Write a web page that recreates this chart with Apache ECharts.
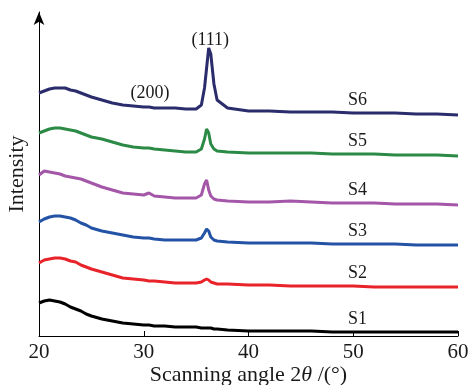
<!DOCTYPE html>
<html><head><meta charset="utf-8">
<script src="https://cdn.jsdelivr.net/npm/echarts@6/dist/echarts.min.js"></script>
<style>html,body{margin:0;padding:0;background:#fff}#c{width:471px;height:385px}</style>
</head><body><div id="c"></div>
<script>
var angles = [20,20.5,21,21.5,22,22.5,23,23.5,24,24.5,25,26,27,28,29,30,30.5,31,32,33,34,35,35.5,35.8,36.0,36.2,36.4,36.7,37,38,40,42,44,46,48,50,52,54,56,58,60];
var seriesNames = ['S1','S2','S3','S4','S5','S6'];
var S1 = [33,35,36,35,34,32,29,27,25,22,20, 17,15,13,12,11,11,10,10,9,9,9, 8,8,8,8,8,7,7,6, 5,5,5,5,4,4,4,4,4,4,4];
var S2 = [73,76,77,78,78,77,75,74,71,69,67, 64,61,58,57,56,55,55,54,53,53,53, 54,56,57,56,54,53,52,52, 51,51,50,50,50,50,49,49,49,49,49];
var S3 = [114,117,119,120,120,119,118,116,113,111,108, 105,103,101,99,98,98,97,96,96,96,96, 98,103,107,105,99,96,95,94, 93,93,93,93,92,92,92,92,91,91,91];
var S4 = [161,165,164,163,162,160,159,158,157,155,153, 149,146,143,142,141,143,140,139,138,138,138, 141,152,156,146,140,137,136,135, 134,134,135,134,133,133,133,132,132,132,131];
var S5 = [203,205,207,208,208,207,206,205,203,201,199, 197,194,191,189,188,188,187,186,185,184,184, 187,197,207,203,192,187,185,184, 183,183,183,183,182,182,182,181,181,181,180];
var S6 = [243,245,247,248,248,248,246,245,243,241,239, 236,233,231,230,229,229,228,228,228,227,227, 231,248,268,288,282,252,236,228, 225,225,224,224,224,223,223,223,222,222,221];
var peakLabels = ['(111)','(200)'];
var peakAngles = [36.35, 30.6];
var xTicks = [20,30,40,50,60];

var values = [S1,S2,S3,S4,S5,S6];
var colors = ['#000000','#e8232a','#2453a6','#a457a8','#2b8a46','#2b2c6c'];
var font = 'Liberation Serif';
var labelX = 50.4;

var series = values.map(function(v,i){
  var idx50 = angles.indexOf(50);
  var mp = [{coord:[labelX, v[idx50] + 13], value: seriesNames[i]}];
  if (i === 5) {
    mp.push({coord:[peakAngles[0], 296], value: peakLabels[0]});
    mp.push({coord:[peakAngles[1], 243], value: peakLabels[1]});
  }
  return {
    type:'line', name: seriesNames[i], showSymbol:false, symbol:'none',
    data: angles.map(function(a,k){return [a, v[k]];}),
    lineStyle:{color:colors[i], width:3},
    itemStyle:{color:colors[i]},
    z: 2 + i,
    markPoint:{
      symbol:'circle', symbolSize:0, silent:true,
      label:{show:true, position:'inside', color:'#1a1a1a', fontFamily:font, fontSize:18,
        formatter:function(p){return p.value;}},
      data: mp
    }
  };
});

var chart = echarts.init(document.getElementById('c'), null, {renderer:'canvas'});
chart.setOption({
  animation:false,
  backgroundColor:'#fff',
  grid:{left:39, right:13, top:12, bottom:49, containLabel:false, outerBoundsMode:'none'},
  xAxis:{
    type:'value', min:20, max:60, interval:10,
    axisLine:{show:true, onZero:false, lineStyle:{color:'#000', width:1}},
    axisTick:{show:true, inside:true, length:5, lineStyle:{color:'#000'}},
    splitLine:{show:false},
    axisLabel:{color:'#1a1a1a', fontFamily:font, fontSize:21, margin:6,
      formatter:function(v){return xTicks.indexOf(v)>=0 ? String(v) : '';}},
    name:'{a|Scanning angle 2}{i|θ}{a| /(°)}',
    nameLocation:'middle', nameGap:28, nameMoveOverlap:false,
    nameTextStyle:{rich:{
      a:{fontFamily:font, fontSize:22, color:'#1a1a1a'},
      i:{fontFamily:font, fontSize:22, color:'#1a1a1a', fontStyle:'italic'}
    }}
  },
  yAxis:{
    type:'value', min:0, max:324,
    axisLine:{show:true, onZero:false, symbol:['none','arrow'], symbolSize:[8,13], symbolOffset:[0,0],
      lineStyle:{color:'#000', width:1}},
    axisTick:{show:false}, axisLabel:{show:false}, splitLine:{show:false},
    name:'Intensity', nameLocation:'middle', nameRotate:90, nameGap:11, nameMoveOverlap:false,
    nameTextStyle:{fontFamily:font, fontSize:22, color:'#1a1a1a'}
  },
  series: series
});
</script>
</body></html>
